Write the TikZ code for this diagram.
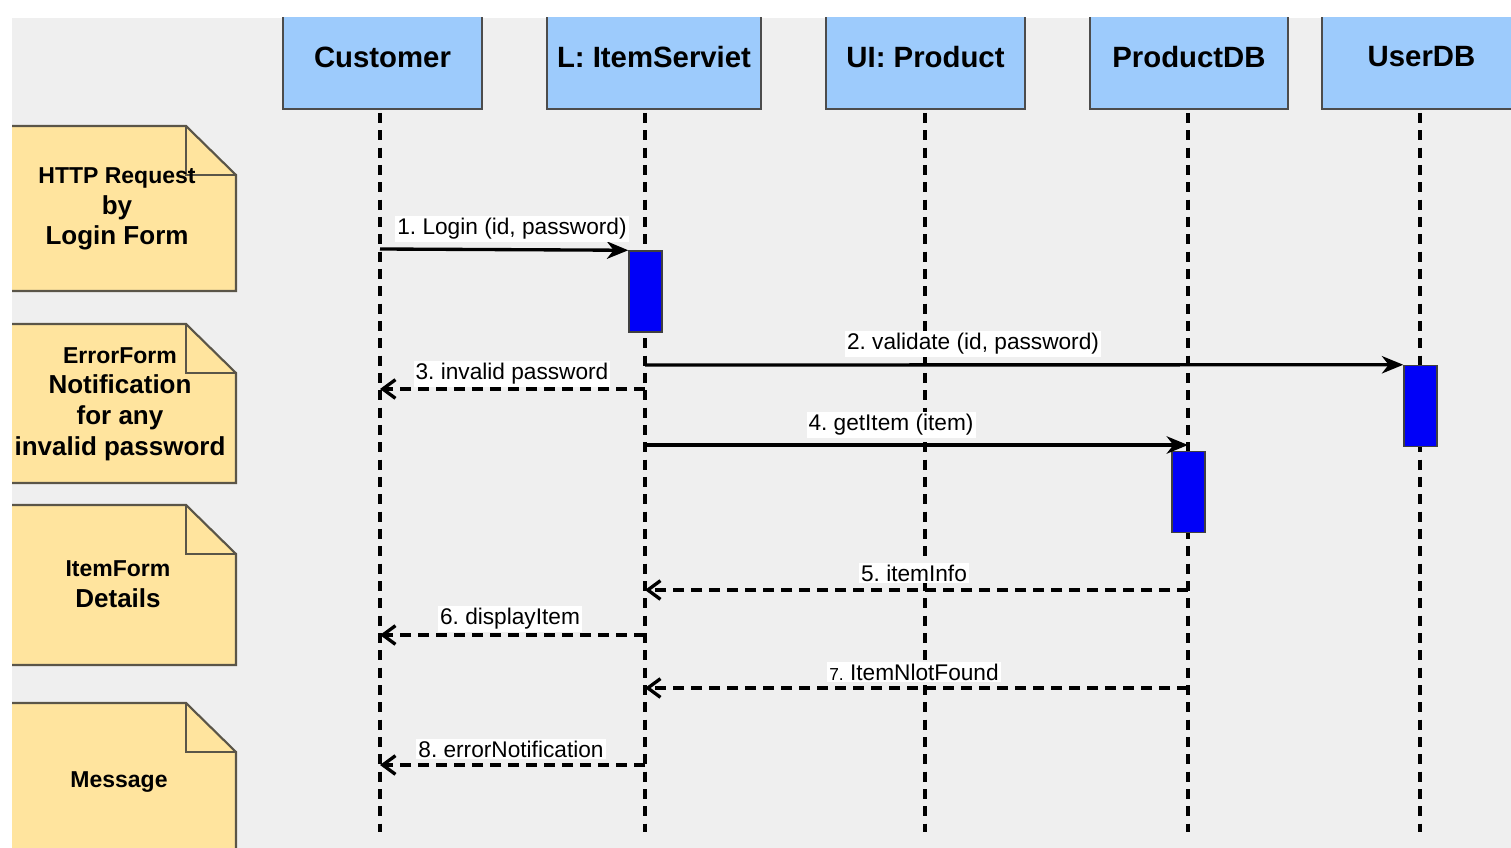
\documentclass[tikz,border=0pt]{standalone}
\usepackage{fontspec}
\setmainfont{Liberation Sans}
\usetikzlibrary{arrows.meta}
\frenchspacing

\definecolor{bggray}{HTML}{EFEFEF}
\definecolor{headblue}{HTML}{9DCBFC}
\definecolor{noteyellow}{HTML}{FFE49E}
\definecolor{noteline}{HTML}{5A5548}
\definecolor{actblue}{HTML}{0000F8}

\begin{document}
\begin{tikzpicture}[x=0.75pt,y=0.75pt,yscale=-1,xscale=1]
    \tikzset{
      head/.style={draw=black!70, line width=1.4pt, fill=headblue, minimum height=78pt, inner sep=0pt,
                   font=\fontsize{22}{26}\selectfont\bfseries},
      actbox/.style={draw=black!75, line width=1.1pt, fill=actblue, minimum width=24.75pt, minimum height=60.75pt, inner sep=0pt},
      life/.style={line width=2.5pt, dash pattern=on 7.5pt off 5.5pt},
      call/.style={line width=2.5pt, -{Stealth[length=16pt,width=13pt,inset=5pt]}},
      reply/.style={line width=2.5pt, dash pattern=on 8pt off 5.5pt, -{Straight Barb[length=9.5pt,width=14pt,line width=2.5pt]}},
      lbl/.style={fill=white, inner sep=1.5pt, font=\fontsize{17}{20}\selectfont},
      notebox/.style={draw=noteline, line width=1.6pt, fill=noteyellow},
      notetext/.style={align=center, font=\fontsize{19.5}{23}\selectfont\bfseries},
    }
    \useasboundingbox (0,0) rectangle (1511,848);
    \fill[white] (0,0) rectangle (1511,848);
    \clip (12,18) rectangle (1511,848);
    \fill[bggray] (12,18) rectangle (1511,848);

    %Notes
    \foreach \t/\b in {126/291, 324/483, 505/665, 703/880} {
      \draw[notebox] (0,\t) -- (186,\t) -- (236,\t+49) -- (236,\b) -- (0,\b) -- cycle;
      \draw[draw=noteline, line width=1.6pt] (186,\t) -- (186,\t+49) -- (236,\t+49);
    }
    \node[notetext] (n1) at (117,209) {{\fontsize{17.25}{23}\selectfont HTTP Request}\\by\\Login Form};
    \node[notetext] (n2) at (120,404) {{\fontsize{17.25}{23}\selectfont ErrorForm}\\Notification\\for any\\invalid password};
    \node[notetext] (n3) at (118,584) {{\fontsize{17.25}{23}\selectfont ItemForm}\\Details};
    \node[notetext, font=\fontsize{17.25}{23}\selectfont\bfseries] (n4) at (119,782) {Message};

    %Heads
    \node[head, minimum width=149.25pt] (hcust) at (382.5,57) {Customer};
    \node[head, minimum width=160.5pt] (hserv) at (654,57) {L: ItemServiet};
    \node[head, minimum width=149.25pt] (hui) at (925.5,57) {UI: Product};
    \node[head, minimum width=148.5pt] (hpdb) at (1189,57) {ProductDB};
    \node[head, minimum width=149.25pt] (hudb) at (1421.5,57) {UserDB};

    %Lifelines
    \foreach \name/\x in {cust/380, serv/645, ui/925, pdb/1188, udb/1420} {
      \coordinate (\name) at (\x,113);
      \coordinate (\name end) at (\x,832);
      \draw[life] (\name) -- (\name end);
    }

    %Activations
    \node[actbox] (act1) at (645.5,291.5) {};
    \node[actbox] (act2) at (1420.5,406) {};
    \node[actbox] (act3) at (1188.5,492) {};

    %Messages
    \draw[call] (cust |- 0,249) -- (act1.north west);
    \draw[call] (serv |- 0,365) -- (act2.north west);
    \draw[reply] (serv |- 0,389) -- (cust |- 0,389);
    \draw[call] (serv |- 0,445) -- (pdb |- 0,445);
    \draw[reply] (pdb |- 0,590) -- (serv |- 0,590);
    \draw[reply] (serv |- 0,635) -- (cust |- 0,635);
    \draw[reply] (pdb |- 0,688) -- (serv |- 0,688);
    \draw[reply] (serv |- 0,765) -- (cust |- 0,765);

    % Text Node
    \node[lbl] (m1) at (512,229) {1. Login (id, password)};
    \node[lbl] (m2) at (973,344) {2. validate (id, password)};
    \node[lbl] (m3) at (512,374) {3. invalid password};
    \node[lbl] (m4) at (891,425) {4. getItem (item)};
    \node[lbl] (m5) at (914,573) {5. itemInfo};
    \node[lbl] (m6) at (510,619) {6. displayItem};
    \node[lbl] (m7) at (914,672) {{\fontsize{13}{15}\selectfont 7.} ItemNlotFound};
    \node[lbl] (m8) at (511,749) {8. errorNotification};
\end{tikzpicture}
\end{document}
